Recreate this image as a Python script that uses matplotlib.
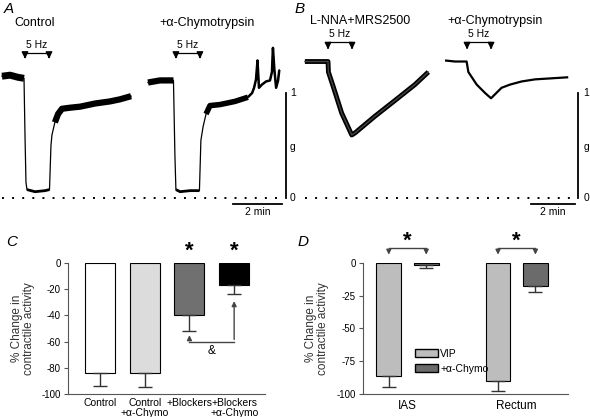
import numpy as np
import matplotlib.pyplot as plt
from matplotlib.patches import Patch

plt.rcParams['font.family'] = ['Liberation Sans', 'DejaVu Sans']
plt.rcParams['axes.unicode_minus'] = False

# ---------------- data ----------------
# panel A traces: time (min), tension (g)
a1_t = [0.08, 0.41, 0.73, 0.98, 1.02, 1.06, 1.10, 1.43, 1.84, 2.02, 2.08, 2.12,
        2.24, 2.37, 2.53, 2.86, 3.27, 3.88, 4.49, 4.90, 5.35]
a1_g = [1.16, 1.17, 1.15, 1.14, 0.60, 0.15, 0.08, 0.06, 0.07, 0.08, 0.50, 0.60,
        0.72, 0.80, 0.85, 0.86, 0.87, 0.90, 0.92, 0.94, 0.97]
a2_t = [6.04, 6.53, 6.94, 7.08, 7.14, 7.18, 7.35, 7.76, 8.14, 8.20, 8.29, 8.41,
        8.57, 8.98, 9.59, 10.12, 10.29, 10.37, 10.45, 10.51, 10.57, 10.69, 10.86,
        11.02, 11.10, 11.14, 11.20, 11.27, 11.35, 11.40]
a2_g = [1.10, 1.12, 1.12, 1.12, 0.40, 0.08, 0.06, 0.07, 0.07, 0.55, 0.68, 0.80,
        0.88, 0.89, 0.92, 0.96, 1.00, 1.05, 1.13, 1.31, 1.05, 1.08, 1.11, 1.12,
        1.20, 1.43, 1.22, 1.05, 1.12, 1.22]
a_stim_on = [1.02, 7.18]
a_stim_off = [2.00, 8.16]

# panel B traces
b1_t = [0.45, 0.91, 1.50, 1.52, 1.74, 2.12, 2.58, 2.73, 3.64, 4.55, 5.45, 6.06]
b1_g = [1.30, 1.30, 1.30, 1.20, 1.06, 0.81, 0.60, 0.62, 0.78, 0.93, 1.08, 1.20]
b2_t = [6.82, 7.27, 7.80, 7.88, 8.26, 8.64, 8.91, 9.39, 9.77, 10.30, 10.91, 12.42]
b2_g = [1.31, 1.30, 1.30, 1.20, 1.08, 1.00, 0.95, 1.05, 1.08, 1.11, 1.13, 1.15]
b_stim_on = [1.50, 7.82]
b_stim_off = [2.59, 8.91]

# panel C
c_labels = ['Control', 'Control\n+\u03b1-Chymo', '+Blockers', '+Blockers\n+\u03b1-Chymo']
c_vals = [-84, -84, -40, -17]
c_err = [10, 11, 12, 7]
c_colors = ['white', '#dcdcdc', '#707070', 'black']

# panel D
d_groups = ['IAS', 'Rectum']
d_vip = [-86, -90]
d_vip_err = [8.5, 8]
d_chymo = [-2, -18]
d_chymo_err = [2, 4]

W, H = 590, 417


def rect(x0, y0, x1, y1):
    return [x0 / W, 1 - y1 / H, (x1 - x0) / W, (y1 - y0) / H]


fig = plt.figure(figsize=(5.9, 4.17), dpi=100)

thick = dict(color='black', solid_capstyle='butt', solid_joinstyle='round')


def stim(ax, on, off, top, tip, txt_y):
    for a, b in zip(on, off):
        ax.plot([a, a, b, b], [tip + 0.05, top, top, tip + 0.05], color='black', lw=0.9)
        for x in (a, b):
            ax.annotate('', xy=(x, tip), xytext=(x, tip + 0.07),
                        arrowprops=dict(arrowstyle='-|>', color='black', lw=0.9,
                                        mutation_scale=10))
        ax.text((a + b) / 2, txt_y, '5 Hz', fontsize=7.5, ha='center', va='center')


def scalebars(ax, xv, x0, x1, xlab, xdot0, xdot1):
    ax.plot([xdot0, xdot1], [0, 0], color='black', lw=1.4, linestyle=(0, (1, 4.2)))
    ax.plot([xv, xv], [0, 1], color='black', lw=1.3)
    ax.plot([x0, x1], [-0.057, -0.057], color='black', lw=1.3)
    ax.text((x0 + x1) / 2, -0.135, '2 min', fontsize=7.5, ha='center', va='center')
    for y, s in [(1, '1'), (0.49, 'g'), (0, '0')]:
        ax.text(xlab, y, s, fontsize=7.5, ha='center', va='center')


# ---------------- panel A ----------------
axA = fig.add_axes(rect(0, 0, 295, 215))
axA.set_xlim(0, 295 / 24.5)
axA.set_ylim(-0.162, 1.886)
axA.axis('off')
axA.plot(a1_t, a1_g, color='black', lw=0.9)
axA.plot(a1_t[:4], a1_g[:4], lw=5, **thick)
axA.plot(a1_t[12:], a1_g[12:], lw=4.5, **thick)
axA.plot(a1_t[6:10], a1_g[6:10], lw=2, **thick)
axA.plot(a2_t, a2_g, color='black', lw=0.9)
axA.plot(a2_t[:4], a2_g[:4], lw=4.5, **thick)
axA.plot(a2_t[11:16], a2_g[11:16], lw=4, **thick)
axA.plot(a2_t[5:9], a2_g[5:9], lw=2, **thick)
axA.plot(a2_t[15:], a2_g[15:], lw=1.8, **thick)
stim(axA, a_stim_on, a_stim_off, 1.38, 1.30, 1.46)
scalebars(axA, 11.67, 9.51, 11.51, 11.95, 0.08, 11.6)
axA.text(1.43, 1.667, 'Control', fontsize=9, ha='center', va='center')
axA.text(8.45, 1.667, '+\u03b1-Chymotrypsin', fontsize=9, ha='center', va='center')

# ---------------- panel B ----------------
axB = fig.add_axes(rect(295, 0, 590, 215))
axB.set_xlim(0, 295 / 22)
axB.set_ylim(-0.162, 1.886)
axB.axis('off')
axB.plot(b1_t, b1_g, lw=3.5, **thick)
axB.plot(b1_t, b1_g, color='#444444', lw=1.0)
axB.plot(b2_t, b2_g, lw=1.6, **thick)
stim(axB, b_stim_on, b_stim_off, 1.49, 1.39, 1.56)
scalebars(axB, 12.86, 10.73, 12.73, 13.23, 0.45, 12.8)
axB.text(2.95, 1.69, 'L-NNA+MRS2500', fontsize=9, ha='center', va='center')
axB.text(9.09, 1.69, '+\u03b1-Chymotrypsin', fontsize=9, ha='center', va='center')

# ---------------- panel C ----------------
axC = fig.add_axes(rect(68, 263, 265, 394))
xc = np.arange(len(c_vals))
axC.bar(xc, c_vals, width=0.67, color=c_colors, edgecolor='black', linewidth=0.8,
        yerr=[c_err, [0] * 4], error_kw=dict(ecolor='#333333', elinewidth=1,
                                              capsize=5, capthick=1))
axC.set_xlim(-0.716, 3.69)
axC.set_ylim(-100, 0)
axC.set_yticks([0, -20, -40, -60, -80, -100])
axC.set_xticks(xc)
axC.set_xticklabels(c_labels, fontsize=7.5, linespacing=1.0)
axC.tick_params(axis='x', length=0, pad=3)
axC.tick_params(axis='y', labelsize=7, length=3, color='#555555', pad=2)
for s in ['top', 'right']:
    axC.spines[s].set_visible(False)
for s in ['left', 'bottom']:
    axC.spines[s].set_color('#555555')
axC.set_ylabel('% Change in\ncontractile activity', fontsize=8.5, color='#333333',
               linespacing=1.0, labelpad=5)
for i in (2, 3):
    axC.text(xc[i], 1, '*', fontsize=16, fontweight='bold', ha='center', va='bottom',
             clip_on=False)
axC.plot([xc[2], xc[3]], [-60, -60], color='#444444', lw=1)
axC.annotate('', xy=(xc[2], -53), xytext=(xc[2], -60.5),
             arrowprops=dict(arrowstyle='-|>', color='#444444', lw=1, mutation_scale=7))
axC.annotate('', xy=(xc[3], -27), xytext=(xc[3], -60.5),
             arrowprops=dict(arrowstyle='-|>', color='#444444', lw=1, mutation_scale=7))
axC.text((xc[2] + xc[3]) / 2, -67, '&', fontsize=8.5, ha='center', va='center')

# ---------------- panel D ----------------
axD = fig.add_axes(rect(362.7, 262.7, 568, 394))
gx = np.array([0.5, 3.3])
off = 0.48
axD.bar(gx - off, d_vip, width=0.64, color='#bdbdbd', edgecolor='black', linewidth=0.8,
        yerr=[d_vip_err, [0, 0]], error_kw=dict(ecolor='#333333', elinewidth=1,
                                                 capsize=5, capthick=1))
axD.bar(gx + off, d_chymo, width=0.64, color='#6b6b6b', edgecolor='black', linewidth=0.8,
        yerr=[d_chymo_err, [0, 0]], error_kw=dict(ecolor='#333333', elinewidth=1,
                                                   capsize=5, capthick=1))
axD.set_xlim(-0.649, 4.615)
axD.set_ylim(-100, 0)
axD.set_yticks([0, -25, -50, -75, -100])
axD.set_xticks(gx)
axD.set_xticklabels(d_groups, fontsize=8.5)
axD.tick_params(axis='x', length=0, pad=4)
axD.tick_params(axis='y', labelsize=7, length=3, color='#555555', pad=2)
for s in ['top', 'right']:
    axD.spines[s].set_visible(False)
for s in ['left', 'bottom']:
    axD.spines[s].set_color('#555555')
axD.set_ylabel('% Change in\ncontractile activity', fontsize=8.5, color='#333333',
               linespacing=1.0, labelpad=5)
for g in gx:
    axD.plot([g - off, g + off], [11, 11], color='#444444', lw=1, clip_on=False)
    for x in (g - off, g + off):
        axD.annotate('', xy=(x, 4), xytext=(x, 11.5),
                     arrowprops=dict(arrowstyle='-|>', color='#444444', lw=1,
                                     mutation_scale=7), annotation_clip=False)
    axD.text(g, 8, '*', fontsize=16, fontweight='bold', ha='center', va='bottom',
             clip_on=False)
axD.legend(handles=[Patch(facecolor='#bdbdbd', edgecolor='black', label='VIP'),
                    Patch(facecolor='#6b6b6b', edgecolor='black', label='+\u03b1-Chymo')],
           loc='upper left', bbox_to_anchor=(0.22, 0.40), frameon=False, fontsize=7.5,
           handlelength=2.2, handleheight=0.8, handletextpad=0.2, labelspacing=0.5,
           borderpad=0.2)

# panel letters
for x, y, s in [(4, 9, 'A'), (295, 9, 'B'), (6, 242, 'C'), (298, 242, 'D')]:
    fig.text(x / W, 1 - y / H, s, fontsize=11, style='italic', ha='left', va='center')

fig.savefig('out.png', dpi=100)
